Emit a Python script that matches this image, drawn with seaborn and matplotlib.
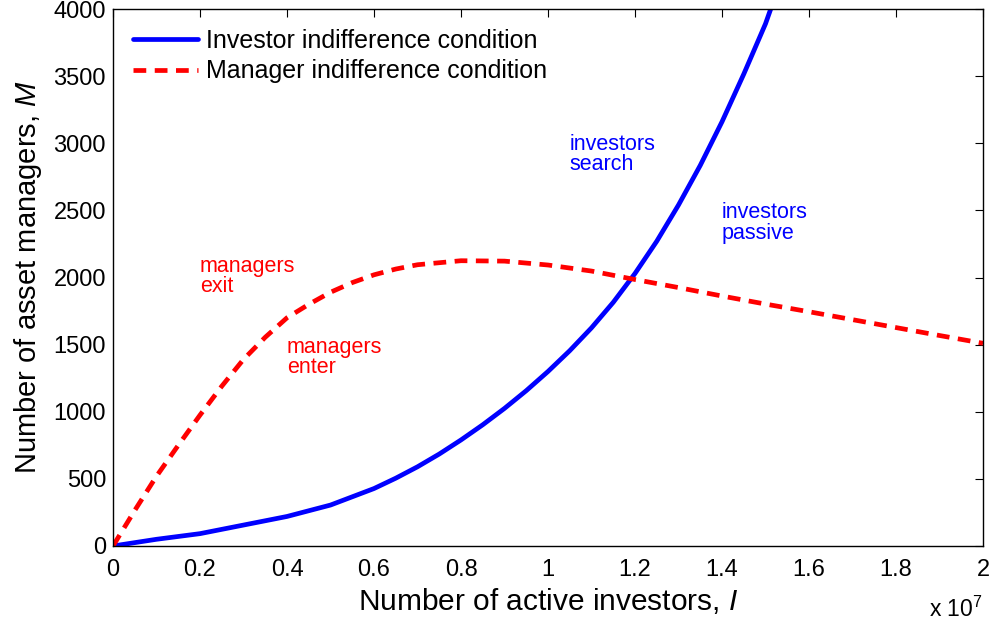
import matplotlib
matplotlib.use("Agg")
import matplotlib.pyplot as plt
import seaborn as sns
import pandas as pd

# Data (investors in units of 1e7)
inv_x = [0.0, 0.1, 0.2, 0.3, 0.4, 0.5, 0.6, 0.65, 0.7, 0.75, 0.8, 0.85, 0.9, 0.95, 1.0,
         1.05, 1.1, 1.15, 1.2, 1.25, 1.3, 1.35, 1.4, 1.45, 1.5, 1.512]
inv_y = [0, 50, 92, 156, 220, 305, 428, 505, 590, 685, 790, 903, 1025, 1157, 1300,
         1455, 1625, 1815, 2030, 2270, 2540, 2835, 3160, 3515, 3890, 4000]

mgr_x = [0.0, 0.05, 0.1, 0.15, 0.2, 0.25, 0.3, 0.35, 0.4, 0.45, 0.5, 0.55, 0.6, 0.65, 0.7,
         0.8, 0.9, 1.0, 1.1, 1.2, 1.3, 1.4, 1.5, 1.6, 1.7, 1.8, 1.9, 2.0]
mgr_y = [0, 265, 520, 750, 975, 1190, 1390, 1555, 1700, 1800, 1890, 1962, 2020, 2063, 2095,
         2125, 2122, 2093, 2048, 1985, 1925, 1862, 1802, 1745, 1686, 1627, 1568, 1510]

x_ticks = [0, 0.2, 0.4, 0.6, 0.8, 1, 1.2, 1.4, 1.6, 1.8, 2]
x_tick_labels = ["0", "0.2", "0.4", "0.6", "0.8", "1", "1.2", "1.4", "1.6", "1.8", "2"]
y_ticks = [0, 500, 1000, 1500, 2000, 2500, 3000, 3500, 4000]

sns.set_theme(style="white")
plt.rcParams["font.family"] = ["Liberation Sans", "DejaVu Sans"]
plt.rcParams["mathtext.fontset"] = "custom"
plt.rcParams["mathtext.it"] = "Liberation Sans:italic"
plt.rcParams["mathtext.rm"] = "Liberation Sans"
plt.rcParams["text.color"] = "black"
plt.rcParams["axes.labelcolor"] = "black"

fig = plt.figure(figsize=(9.94, 6.25), dpi=100)
ax = fig.add_axes([113 / 994, 79 / 625, 870 / 994, 537 / 625])

df_inv = pd.DataFrame({"I": [v * 1e7 for v in inv_x], "M": inv_y})
df_mgr = pd.DataFrame({"I": [v * 1e7 for v in mgr_x], "M": mgr_y})

sns.lineplot(data=df_inv, x="I", y="M", ax=ax, color="#0000ff", lw=3.4,
             label="Investor indifference condition", sort=False)
sns.lineplot(data=df_mgr, x="I", y="M", ax=ax, color="#ff0000", lw=3.4,
             linestyle=(0, (2.7, 1.8)), label="Manager indifference condition", sort=False)

ax.set_xlim(0, 2e7)
ax.set_ylim(0, 4000)
ax.set_xticks([t * 1e7 for t in x_ticks])
ax.set_xticklabels(x_tick_labels)
ax.set_yticks(y_ticks)
ax.tick_params(direction="in", length=6, width=0.8, top=True, right=True,
               labelsize=17, colors="black")
ax.tick_params(axis="x", pad=9)
ax.tick_params(axis="y", pad=5)
for s in ax.spines.values():
    s.set_color("black")
    s.set_linewidth(1.0)

ax.set_xlabel("Number of active investors, $\\mathit{I}$", fontsize=21.5, labelpad=4)
ax.set_ylabel("Number of asset managers, $\\mathit{M}$", fontsize=21, labelpad=7)

fig.text(983 / 994, 28 / 625, "x 10$^{7}$", ha="right", va="top", fontsize=16.5)

ann_kw = dict(fontsize=15.5, va="top", ha="left", linespacing=0.95)
ax.text(0.2e7, 2160, "managers\nexit", color="#ff0000", **ann_kw)
ax.text(0.4e7, 1560, "managers\nenter", color="#ff0000", **ann_kw)
ax.text(1.049e7, 3070, "investors\nsearch", color="#0000ff", **ann_kw)
ax.text(1.4e7, 2560, "investors\npassive", color="#0000ff", **ann_kw)

leg = ax.legend(loc="upper left", frameon=False, fontsize=18, handlelength=2.6,
                handletextpad=0.3, borderaxespad=0.4, labelspacing=0.25,
                bbox_to_anchor=(0.0, 1.0))
for t in leg.get_texts():
    t.set_color("black")

fig.savefig("out.png", dpi=100)
